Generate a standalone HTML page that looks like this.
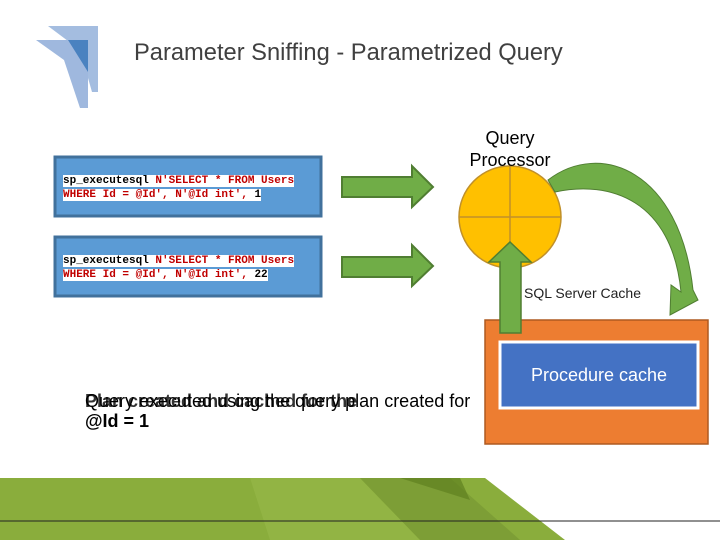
<!DOCTYPE html>
<html><head><meta charset="utf-8"><style>
body{margin:0;width:720px;height:540px;position:relative;background:#fff;overflow:hidden;font-family:"Liberation Sans",sans-serif}
.t{position:absolute;white-space:nowrap}
.code{position:absolute;font-family:"Liberation Mono",monospace;font-size:11px;line-height:14px;font-weight:bold;color:#c00000}
.code span{background:#fff}
.k{color:#000}
</style></head><body>
<svg width="720" height="540" style="position:absolute;left:0;top:0">
<polygon points="48,26 98,26 98,92 92,92 80,50" fill="#a4bde0"/>
<polygon points="36,40 88,40 88,108 80,108 64,60" fill="#9fb8de"/>
<polygon points="68,40 88,40 88,72" fill="#4a82c0"/>
<rect x="55" y="157" width="266" height="59" fill="#5b9bd5" stroke="#41719c" stroke-width="3"/>
<rect x="55" y="237" width="266" height="59" fill="#5b9bd5" stroke="#41719c" stroke-width="3"/>
<polygon points="342,177 412,177 412,166 433,187 412,207 412,197 342,197" fill="#70ad47" stroke="#507e32" stroke-width="2"/>
<polygon points="342,257 412,257 412,245 433,266 412,286 412,277 342,277" fill="#70ad47" stroke="#507e32" stroke-width="2"/>
<circle cx="510" cy="217" r="51" fill="#ffc000" stroke="#c0902a" stroke-width="1.5"/>
<line x1="459" y1="217" x2="561" y2="217" stroke="#c0902a" stroke-width="1.5"/>
<line x1="510" y1="166" x2="510" y2="268" stroke="#c0902a" stroke-width="1.5"/>
<rect x="485" y="320" width="223" height="124" fill="#ed7d31" stroke="#ae5a21" stroke-width="1.5"/>
<rect x="500" y="342" width="198" height="66" fill="#4472c4" stroke="#fff" stroke-width="3"/>
<polygon points="500,333 500,262 489,262 510,242 531,262 521,262 521,333" fill="#70ad47" stroke="#507e32" stroke-width="1.5"/>
<path d="M548,180 C600,140 680,170 693,290 L698,300 L670,315 L671,285 L681,292 C672,200 610,180 555,192 Z" fill="#70ad47" stroke="#507e32" stroke-width="1"/>
<polygon points="0,478 485,478 565,540 0,540" fill="#8aad3c"/>
<polygon points="250,478 360,478 420,540 270,540" fill="#97b94a" opacity="0.6"/>
<polygon points="360,478 450,478 520,540 420,540" fill="#6f9030" opacity="0.5"/>
<polygon points="400,478 460,478 470,500" fill="#5f8020" opacity="0.7"/>
<line x1="0" y1="521" x2="720" y2="521" stroke="#222" stroke-width="1"/>
</svg>
<div class="t" style="left:134px;top:40px;font-size:23.7px;color:#404040">Parameter Sniffing - Parametrized Query</div>
<div class="t" style="left:462px;top:127px;width:96px;text-align:center;font-size:18px;line-height:22px;color:#000">Query<br>Processor</div>
<div class="t" style="left:524px;top:285px;font-size:14px;color:#222">SQL Server Cache</div>
<div class="t" style="left:500px;top:365px;width:198px;text-align:center;font-size:18px;color:#fff">Procedure cache</div>
<div class="code" style="left:63px;top:174px"><span><span class="k">sp_executesql </span>N'SELECT * FROM Users</span><br><span>WHERE Id = @Id', N'@Id int', <span class="k">1</span></span></div>
<div class="code" style="left:63px;top:254px"><span><span class="k">sp_executesql </span>N'SELECT * FROM Users</span><br><span>WHERE Id = @Id', N'@Id int', <span class="k">22</span></span></div>
<div class="t" style="left:85px;top:391px;font-size:18px;color:#000">Query executed using the query plan created for</div>
<div class="t" style="left:85px;top:391px;font-size:18px;color:#000;font-weight:bold;opacity:.8">Plan created and cached for the</div>
<div class="t" style="left:85px;top:411px;font-size:18px;font-weight:bold;color:#000">@Id = 1</div>
</body></html>
